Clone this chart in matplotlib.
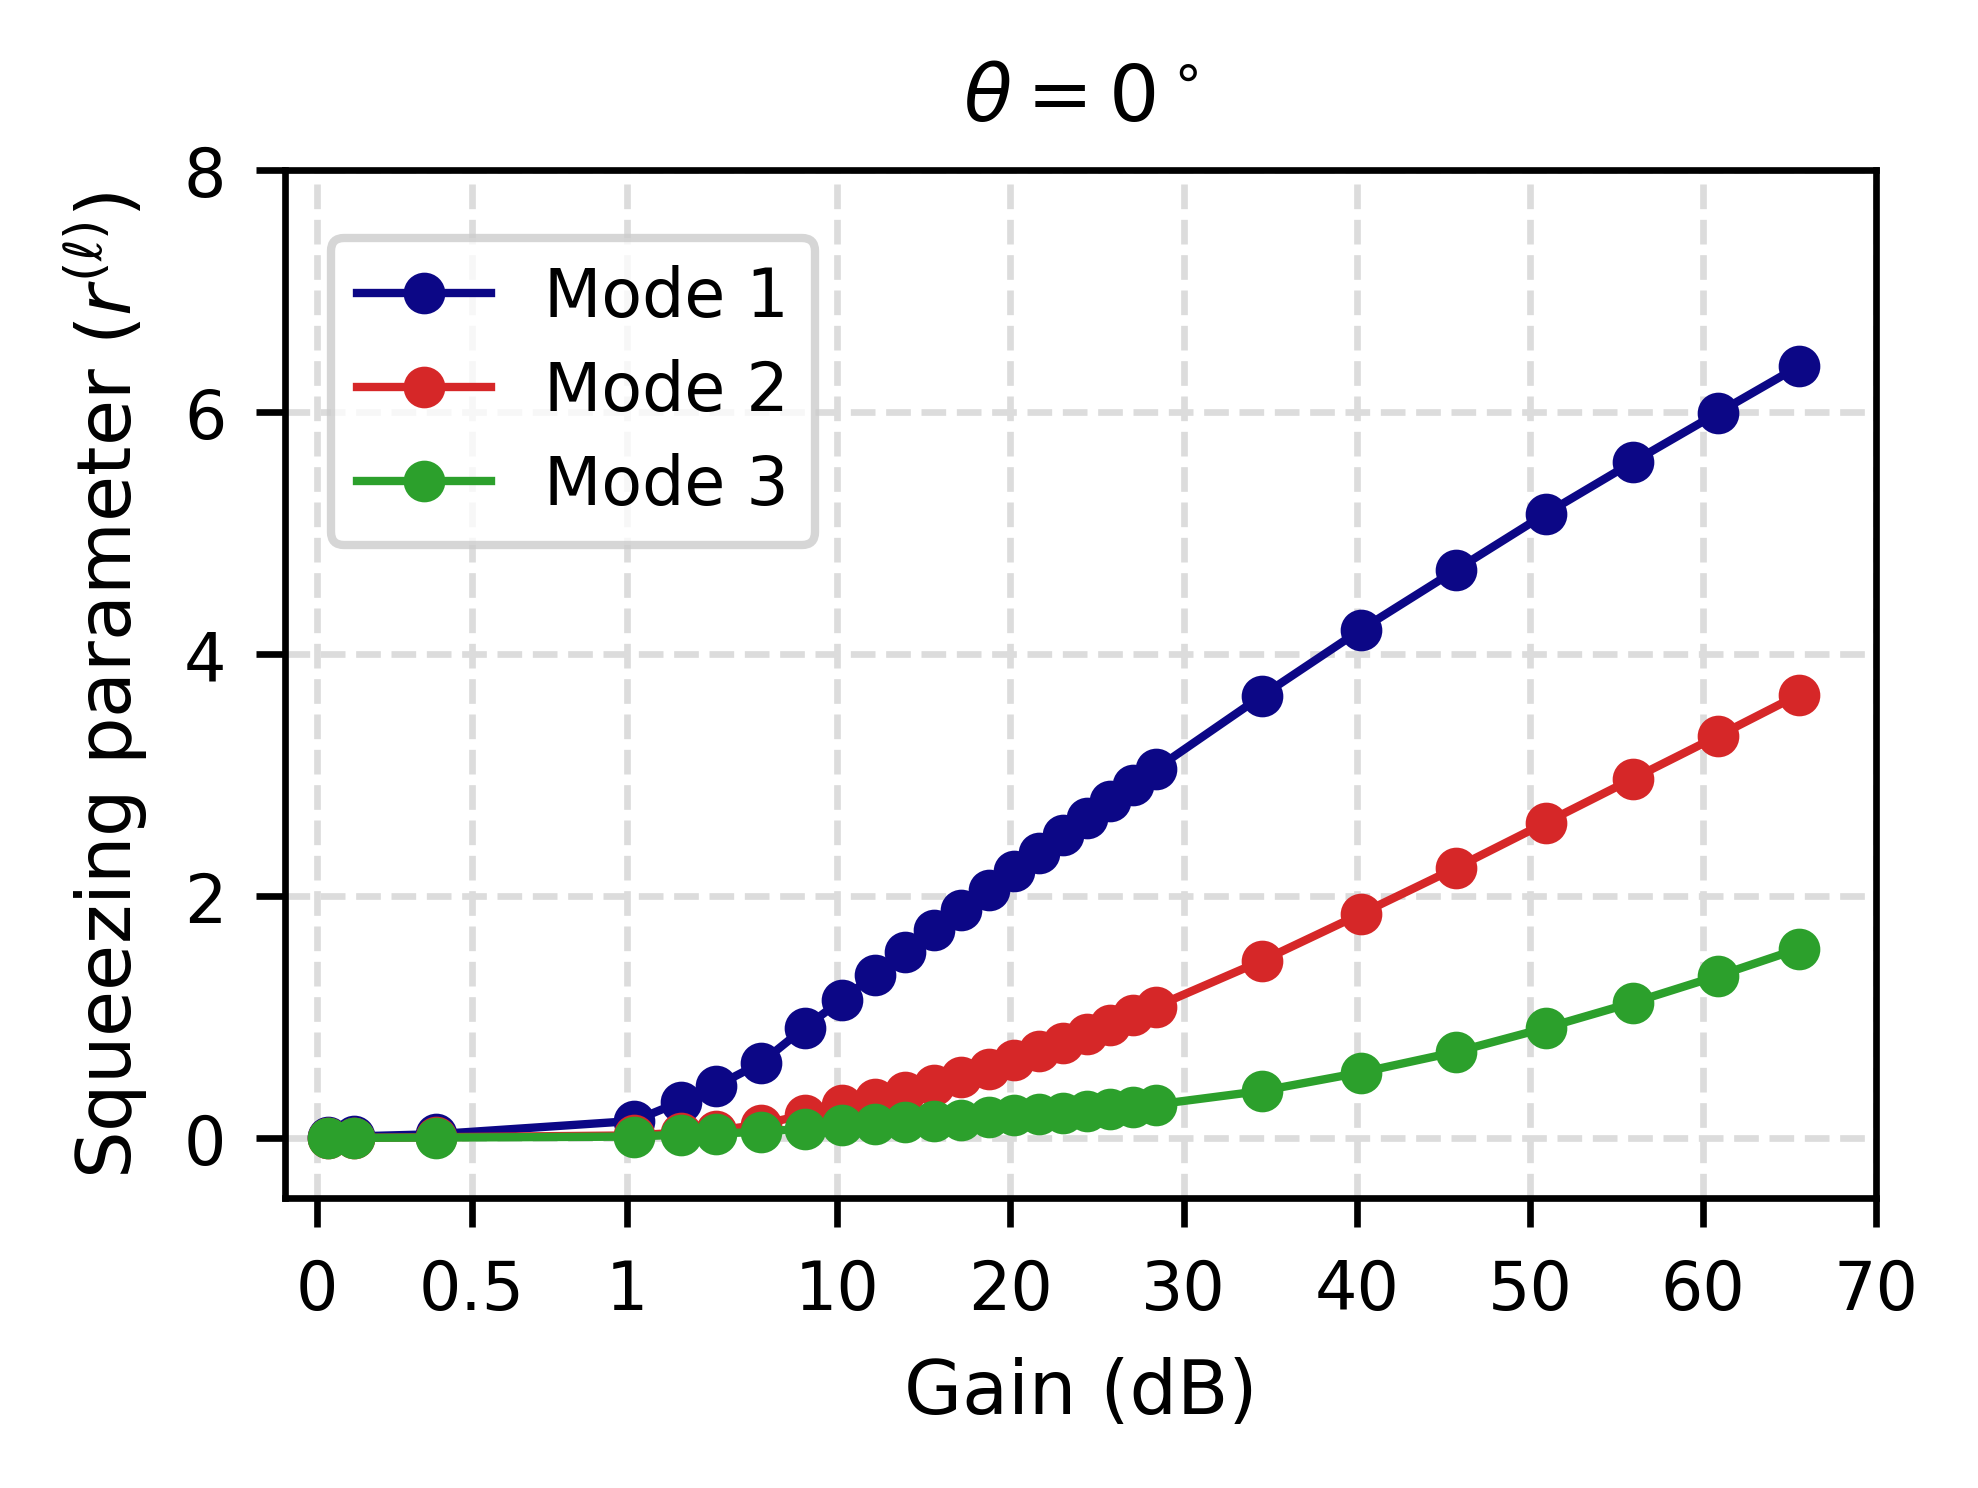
import numpy as np
import matplotlib
matplotlib.use("Agg")
import matplotlib.pyplot as plt

# ---- data ----
gain_db = [0.038, 0.122, 0.384, 1.31, 3.33, 4.84, 6.74, 8.6, 10.25, 12.15, 13.89,
           15.56, 17.12, 18.75, 20.23, 21.67, 23.06, 24.45, 25.78, 27.1, 28.4,
           34.51, 40.23, 45.72, 50.92, 55.95, 60.86, 65.54]
mode1 = [0.005, 0.012, 0.03, 0.14, 0.30, 0.43, 0.62, 0.91, 1.14, 1.35, 1.537,
         1.72, 1.884, 2.05, 2.207, 2.355, 2.504, 2.645, 2.785, 2.917, 3.05,
         3.653, 4.20, 4.694, 5.16, 5.587, 5.994, 6.38]
mode2 = [0.0, 0.0, 0.005, 0.02, 0.044, 0.06, 0.11, 0.19, 0.275, 0.319, 0.38,
         0.435, 0.504, 0.567, 0.641, 0.716, 0.788, 0.862, 0.936, 1.013, 1.085,
         1.463, 1.851, 2.231, 2.606, 2.969, 3.322, 3.664]
mode3 = [0.0, 0.0, 0.002, 0.01, 0.027, 0.035, 0.05, 0.077, 0.104, 0.118, 0.132,
         0.137, 0.151, 0.173, 0.187, 0.193, 0.207, 0.22, 0.242, 0.256, 0.275,
         0.388, 0.54, 0.71, 0.909, 1.118, 1.339, 1.564]
labels = ["Mode 1", "Mode 2", "Mode 3"]
colors = ["#0c0786", "#d62728", "#2ca02c"]
xticks = [0, 0.5, 1, 10, 20, 30, 40, 50, 60, 70]
xticklabels = ["0", "0.5", "1", "10", "20", "30", "40", "50", "60", "70"]
yticks = [0, 2, 4, 6, 8]

# piecewise axis: breakpoints in data and display units
_bx = np.array([-10.0, 0.0, 1.0, 10.0, 70.0, 200.0])
_bu = np.array([-10.0, 0.0, 1.0, 1.6797, 5.030, 5.030 + 130 * 0.05584])

def fwd(x):
    return np.interp(x, _bx, _bu)

def inv(u):
    return np.interp(u, _bu, _bx)

fig = plt.figure(figsize=(1978 / 600, 1489 / 600), dpi=600)
ax = fig.add_axes([284.6 / 1978, 1 - 1199.3 / 1489, (1876 - 284.6) / 1978, (1199.3 - 171.3) / 1489])
ax.set_xscale("function", functions=(fwd, inv))

for y, lab, c in zip([mode1, mode2, mode3], labels, colors):
    ax.plot(gain_db, y, marker="o", markersize=4, linewidth=1.0, color=c, label=lab)

ax.set_xlim(-0.103, 70)
ax.set_ylim(-0.5, 8)
ax.set_xticks(xticks)
ax.set_xticklabels(xticklabels)
ax.set_yticks(yticks)
ax.minorticks_off()
ax.tick_params(labelsize=8)
ax.grid(True, linestyle="--", color="#dcdcdc", linewidth=0.8)
ax.set_axisbelow(True)

ax.set_xlabel("Gain (dB)", fontsize=9)
ax.set_ylabel(r"Squeezing parameter ($r^{(\ell)}$)", fontsize=9)
ax.set_title(r"$\theta = 0^\circ$", fontsize=9.5)
ax.legend(loc="upper left", fontsize=8, bbox_to_anchor=(0.008, 0.967), labelspacing=0.42)

fig.savefig("out.png", dpi=600)
